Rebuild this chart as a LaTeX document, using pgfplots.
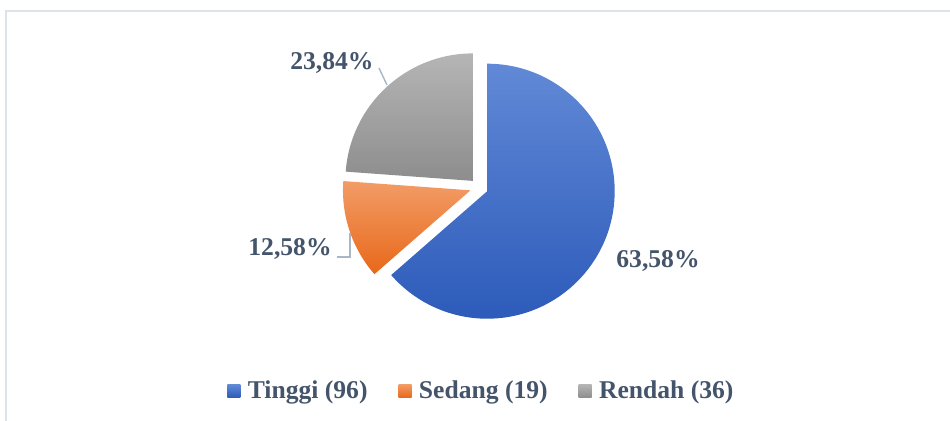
\documentclass[border=0pt]{standalone}
\usepackage{pgfplots}
\pgfplotsset{compat=1.18}
\usepackage{pgfplotstable}
\usepackage{fontspec}
\setmainfont{Liberation Serif}
\definecolor{txt}{HTML}{44546A}
\definecolor{lead}{HTML}{A8B6C8}
\definecolor{frame}{HTML}{DEE3EA}
\definecolor{bTop}{HTML}{6189D6}
\definecolor{bBot}{HTML}{2D5BBA}
\definecolor{oTop}{HTML}{F29C66}
\definecolor{oBot}{HTML}{E8681A}
\definecolor{gTop}{HTML}{B5B5B5}
\definecolor{gBot}{HTML}{8D8D8D}
\pgfplotstableread{
name value
Tinggi 96
Sedang 19
Rendah 36
}\piedata
\newcommand\lblfont{\bfseries\fontsize{12.8}{15}\selectfont}
\begin{document}
\begin{tikzpicture}
\pgfplotstablegetelem{0}{value}\of\piedata \let\va\pgfplotsretval
\pgfplotstablegetelem{1}{value}\of\piedata \let\vb\pgfplotsretval
\pgfplotstablegetelem{2}{value}\of\piedata \let\vc\pgfplotsretval
\pgfmathsetmacro\tot{\va+\vb+\vc}
\pgfmathsetmacro\aS{90}
\pgfmathsetmacro\aE{\aS-360*(\va/\tot)}
\pgfmathsetmacro\bE{\aE-360*(\vb/\tot)}
\pgfmathsetmacro\cE{\bE-360*(\vc/\tot)}
\pgfmathsetmacro\am{(\aS+\aE)/2}
\pgfmathsetmacro\bm{(\aE+\bE)/2}
\pgfmathsetmacro\cm{(\bE+\cE)/2}
\def\cx{479}\def\cy{233.5}\def\dx{9}
\pgfmathsetmacro\acx{\cx+\dx*cos(\am)}\pgfmathsetmacro\acy{\cy+\dx*sin(\am)}
\pgfmathsetmacro\bcx{\cx+\dx*cos(\bm)}\pgfmathsetmacro\bcy{\cy+\dx*sin(\bm)}
\pgfmathsetmacro\ccx{\cx+\dx*cos(\cm)}\pgfmathsetmacro\ccy{\cy+\dx*sin(\cm)}
\def\R{63.75pt}
\begin{axis}[
  scale only axis, width=475pt, height=210.5pt,
  xmin=0, xmax=950, ymin=0, ymax=421,
  hide axis, clip=false,
  legend style={at={(axis cs:482,30)}, anchor=center, draw=none, fill=none,
    legend columns=3, font=\lblfont, text=txt,
    /tikz/every even column/.append style={column sep=14pt},
    nodes={inner sep=1.5pt}},
  legend image code/.code={\path[#1,draw=none] (0pt,-3.25pt) rectangle (6.5pt,3.25pt); \path (8.5pt,0pt);},
]
\shade[top color=bTop, bottom color=bBot] (axis cs:\acx,\acy) -- ++(\aS:\R) arc[start angle=\aS, end angle=\aE, radius=\R] -- cycle;
\shade[top color=oTop, bottom color=oBot] (axis cs:\bcx,\bcy) -- ++(\aE:\R) arc[start angle=\aE, end angle=\bE, radius=\R] -- cycle;
\shade[top color=gTop, bottom color=gBot] (axis cs:\ccx,\ccy) -- ++(\bE:\R) arc[start angle=\bE, end angle=\cE, radius=\R] -- cycle;
\draw[lead, line width=0.7pt] (axis cs:379,353) -- (axis cs:387,336);
\draw[lead, line width=0.7pt] (axis cs:337,164) -- (axis cs:350,164) -- (axis cs:350,188);
\node[font=\lblfont, text=txt] at (axis cs:658,160) {63,58\%};
\node[font=\lblfont, text=txt] at (axis cs:332,358) {23,84\%};
\node[font=\lblfont, text=txt] at (axis cs:290,172) {12,58\%};
\draw[frame, line width=1pt] (axis cs:6,-20) -- (axis cs:6,410) -- (axis cs:970,410);
\addlegendimage{top color=bTop, bottom color=bBot}\addlegendentry{Tinggi (96)}
\addlegendimage{top color=oTop, bottom color=oBot}\addlegendentry{Sedang (19)}
\addlegendimage{top color=gTop, bottom color=gBot}\addlegendentry{Rendah (36)}
\end{axis}
\pgfresetboundingbox
\useasboundingbox (0,0) rectangle (475pt,210.5pt);
\end{tikzpicture}
\end{document}
